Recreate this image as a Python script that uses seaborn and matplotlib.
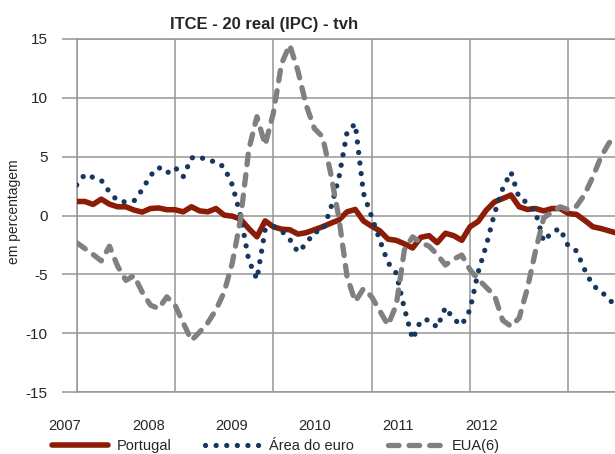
import numpy as np
import pandas as pd
import matplotlib
matplotlib.use("Agg")
import matplotlib.pyplot as plt
import seaborn as sns

# Monthly year-on-year rates, Jan 2007 onwards (%)
portugal = [1.2, 1.2, 0.95, 1.4, 0.97, 0.75, 0.75, 0.47, 0.3, 0.6, 0.65, 0.5,
            0.5, 0.32, 0.75, 0.4, 0.32, 0.6, 0.04, -0.05, -0.3, -1.1, -1.8, -0.45,
            -0.95, -1.15, -1.2, -1.57, -1.45, -1.2, -0.95, -0.65, -0.37, 0.32, 0.52, -0.45,
            -0.9, -1.3, -2.0, -2.1, -2.4, -2.75, -1.85, -1.7, -2.3, -1.5, -1.7, -2.1,
            -0.95, -0.5, 0.47, 1.17, 1.45, 1.75, 0.75, 0.52, 0.6, 0.4, 0.6, 0.6,
            0.18, 0.1, -0.4, -0.95, -1.1, -1.3, -1.5]
area_euro = [2.6, 3.5, 3.25, 3.0, 2.0, 1.25, 1.15, 1.25, 2.2, 3.4, 4.1, 3.6,
             4.1, 3.3, 4.9, 5.0, 4.65, 4.6, 4.1, 2.6, 0.0, -3.8, -5.4, -1.2,
             -0.9, -1.3, -2.0, -3.1, -2.4, -1.4, -1.3, 0.6, 3.2, 7.1, 7.8, 1.9,
             -0.1, -2.1, -4.0, -4.9, -7.9, -10.5, -8.9, -8.85, -9.5, -7.8, -8.8, -9.3,
             -8.0, -4.8, -2.5, 0.2, 2.3, 3.7, 1.5, 1.1, 0.3, -2.2, -1.4, -1.1,
             -2.6, -3.0, -4.6, -5.95, -6.4, -7.2, -7.6]
eua = [-2.3, -2.8, -3.3, -3.85, -2.6, -4.3, -5.5, -5.1, -6.5, -7.6, -7.9, -6.9,
       -7.6, -9.1, -10.6, -9.9, -9.1, -8.0, -6.5, -4.0, -0.3, 5.6, 8.4, 6.0,
       8.7, 12.9, 14.5, 12.3, 9.4, 7.4, 6.7, 3.6, -0.2, -5.2, -7.3, -6.2,
       -6.9, -8.1, -9.3, -7.6, -2.9, -1.8, -2.3, -2.6, -3.3, -4.2, -3.7, -3.35,
       -4.6, -5.4, -6.1, -6.8, -8.9, -9.4, -8.7, -6.2, -3.0, -0.2, 0.3, 0.75,
       0.5, 0.8, 1.8, 3.3, 5.0, 6.2, 6.6]
years = ["2007", "2008", "2009", "2010", "2011", "2012"]
series_names = ["Portugal", "Área do euro", "EUA(6)"]
y_ticks = [-15, -10, -5, 0, 5, 10, 15]

months = np.arange(len(portugal))
df = pd.DataFrame({"mes": months, "Portugal": portugal,
                   "Área do euro": area_euro, "EUA(6)": eua})

sns.set_theme(style="white")
plt.rcParams["font.family"] = ["Liberation Sans", "DejaVu Sans"]

fig = plt.figure(figsize=(6.15, 4.54), dpi=100)
ax = fig.add_axes([0.1247, 0.1361, 0.8753, 0.778])

grid_c = "#969696"
styles = {
    "Portugal": dict(color="#8C1C06", lw=4.0, linestyle="-", solid_capstyle="round"),
    "Área do euro": dict(color="#17375E", lw=3.8, linestyle=(0, (0.01, 2.0)),
                         dash_capstyle="round"),
    "EUA(6)": dict(color="#808080", lw=3.8, linestyle=(0, (2.0, 1.9)),
                   dash_capstyle="round"),
}
for z, name in enumerate(series_names):
    sns.lineplot(data=df, x="mes", y=name, ax=ax, label=name, zorder=3 + z,
                 **styles[name])

ax.set_xlim(0, 65.7)
ax.set_ylim(-15, 15)
ax.set_xticks(np.arange(0, 66, 12))
ax.set_xticklabels([])
ax.set_yticks(y_ticks)
ax.set_yticklabels([str(v) for v in y_ticks], fontsize=11)
ax.tick_params(axis="y", length=11, width=1.1, color=grid_c, pad=10, direction="out", left=True)
ax.tick_params(axis="x", length=0)
ax.grid(True, color=grid_c, lw=1.1)
ax.set_axisbelow(True)
for side in ["left", "bottom", "top"]:
    ax.spines[side].set_visible(True)
    ax.spines[side].set_color(grid_c)
    ax.spines[side].set_linewidth(1.1)
ax.spines["right"].set_visible(False)
ax.set_xlabel("")
ax.set_ylabel("")

# Year labels on the category axis
for i, yr in enumerate(years):
    ax.text(-1.43 + 10.17 * i, -0.096, yr, transform=ax.get_xaxis_transform(),
            ha="center", va="center", fontsize=10.5, clip_on=False)

fig.text(264 / 615, 1 - 25 / 454, "ITCE - 20 real (IPC) - tvh", ha="center", va="center",
         fontsize=12, fontweight="bold")
fig.text(14 / 615, 1 - 212 / 454, "em percentagem", rotation=90, ha="center", va="center",
         fontsize=10)

ax.get_legend().remove()
handles, labels = ax.get_legend_handles_labels()
fig.legend(handles, labels, loc="center", bbox_to_anchor=(276 / 615, 1 - 446 / 454),
           ncol=3, frameon=False, fontsize=10.5, handlelength=3.8, handletextpad=0.6,
           columnspacing=2.3, borderpad=0, borderaxespad=0)

fig.savefig("out.png", dpi=100)
